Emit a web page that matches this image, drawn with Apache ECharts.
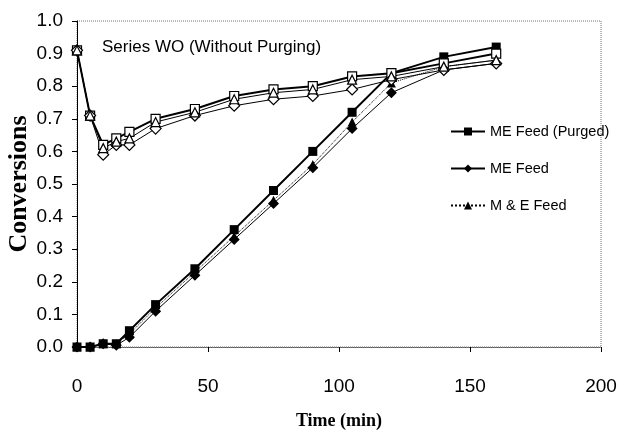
<!DOCTYPE html>
<html>
<head>
<meta charset="utf-8">
<script src="https://cdn.jsdelivr.net/npm/echarts@6/dist/echarts.min.js"></script>
<style>
  html, body { margin: 0; padding: 0; background: #fff; }
  #chart { width: 623px; height: 432px; }
</style>
</head>
<body>
<div id="chart"></div>
<script>
// reaction time (min)
const timeList = [0, 5, 10, 15, 20, 30, 45, 60, 75, 90, 105, 120, 140, 160]

// purged runs
const mePurged = [0.0, 0.0, 0.01, 0.01, 0.05, 0.13, 0.24, 0.36, 0.48, 0.60, 0.72, 0.84, 0.89, 0.92]
const meFeed = [0.0, 0.0, 0.01, 0.005, 0.03, 0.11, 0.22, 0.33, 0.44, 0.55, 0.67, 0.78, 0.85, 0.87]
const mAndEFeed = [0.0, 0.0, 0.01, 0.01, 0.04, 0.12, 0.23, 0.34, 0.45, 0.56, 0.69, 0.81, 0.86, 0.88]

// series WO (without purging)
const mePurgedWO = [0.91, 0.71, 0.62, 0.64, 0.66, 0.70, 0.73, 0.77, 0.79, 0.80, 0.83, 0.84, 0.87, 0.90]
const meFeedWO = [0.91, 0.71, 0.59, 0.62, 0.62, 0.67, 0.71, 0.74, 0.76, 0.77, 0.79, 0.82, 0.85, 0.87]
const mAndEFeedWO = [0.91, 0.71, 0.61, 0.63, 0.64, 0.69, 0.72, 0.76, 0.78, 0.79, 0.82, 0.83, 0.86, 0.88]

const legendNames = ['ME Feed (Purged)', 'ME Feed', 'M & E Feed']
const annotation = 'Series WO (Without Purging)'

const sansFont = "'Liberation Sans', Arial, sans-serif"
const serifFont = "'Liberation Serif', 'Times New Roman', serif"

function pairs(values) {
  return timeList.map((t, i) => [t, values[i]])
}

function makeSeries(name, values, symbol, hollow, lineWidth, lineType) {
  return {
    name: name,
    type: 'line',
    data: pairs(values),
    symbol: symbol,
    symbolSize: symbol === 'diamond' ? 11 : 9,
    showAllSymbol: true,
    animation: false,
    lineStyle: { color: '#000', width: lineWidth, type: lineType },
    itemStyle: {
      color: hollow ? '#fff' : '#000',
      borderColor: '#000',
      borderWidth: hollow ? 1.2 : 0
    },
    emphasis: { disabled: true }
  }
}

const chart = echarts.init(document.getElementById('chart'))
chart.setOption({
  backgroundColor: '#fff',
  animation: false,
  grid: {
    left: 77, right: 22, top: 21, bottom: 85,
    outerBoundsMode: 'none',
    containLabel: false,
    show: true,
    borderColor: '#777',
    borderWidth: 1,
    borderType: 'dotted'
  },
  legend: {
    data: legendNames,
    orient: 'vertical',
    left: 445,
    top: 119,
    itemWidth: 34,
    itemHeight: 10,
    itemGap: 22,
    textStyle: { fontFamily: sansFont, fontSize: 14.5, color: '#000' }
  },
  graphic: [
    {
      type: 'text',
      left: 102,
      top: 39,
      style: { text: annotation, font: '17px ' + sansFont, fill: '#000' }
    }
  ],
  xAxis: {
    type: 'value',
    min: 0,
    max: 200,
    interval: 50,
    name: 'Time (min)',
    nameLocation: 'middle',
    nameGap: 65,
    nameMoveOverlap: false,
    nameTextStyle: { fontFamily: serifFont, fontWeight: 'bold', fontSize: 18, color: '#000' },
    axisLine: { show: true, lineStyle: { color: '#555', type: 'dotted', width: 1 } },
    axisTick: { show: true, inside: false, length: 5, lineStyle: { color: '#000' } },
    axisLabel: { margin: 30, fontFamily: sansFont, fontSize: 19, color: '#000' },
    splitLine: { show: false }
  },
  yAxis: {
    type: 'value',
    min: 0,
    max: 1,
    interval: 0.1,
    name: 'Conversions',
    nameLocation: 'middle',
    nameGap: 45,
    nameMoveOverlap: false,
    nameTextStyle: { fontFamily: serifFont, fontWeight: 'bold', fontSize: 26, color: '#000' },
    axisLine: { show: true, lineStyle: { color: '#000', width: 1 } },
    axisTick: { show: true, inside: false, length: 5, lineStyle: { color: '#000' } },
    axisLabel: {
      margin: 14,
      fontFamily: sansFont,
      fontSize: 19,
      color: '#000',
      formatter: (v) => v.toFixed(1)
    },
    splitLine: { show: false }
  },
  series: [
    makeSeries('ME Feed (Purged)', mePurged, 'rect', false, 2, 'solid'),
    makeSeries('ME Feed', meFeed, 'diamond', false, 1, 'solid'),
    makeSeries('M & E Feed', mAndEFeed, 'triangle', false, 1, 'dotted'),
    makeSeries('ME Feed WO', mePurgedWO, 'rect', true, 2, 'solid'),
    makeSeries('ME Feed  WO', meFeedWO, 'diamond', true, 1, 'solid'),
    makeSeries('M & E Feed WO', mAndEFeedWO, 'triangle', true, 1, 'solid')
  ]
})
</script>
</body>
</html>
